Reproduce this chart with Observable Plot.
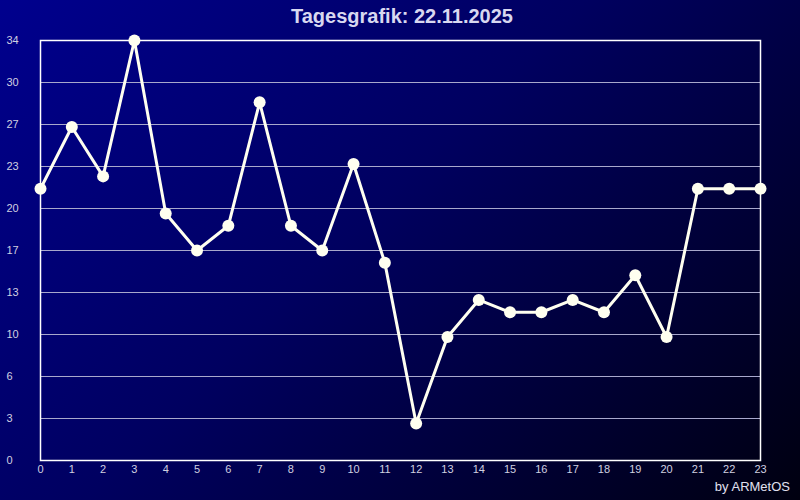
<!DOCTYPE html>
<html>
<head>
<meta charset="utf-8">
<script src="https://cdn.jsdelivr.net/npm/d3@7"></script>
<script src="https://cdn.jsdelivr.net/npm/@observablehq/plot@0.6"></script>
<style>
  html, body { margin: 0; padding: 0; background: #000; }
  #wrap {
    position: relative; width: 800px; height: 500px; overflow: hidden;
    background: linear-gradient(135deg, #00008e 0%, #000060 45%, #000010 100%);
    font-family: "Liberation Sans", Arial, sans-serif;
  }
  #title {
    position: absolute; left: 0; top: 5px; width: 804px; text-align: center;
    font-size: 20px; font-weight: bold; color: #d8d8f0;
  }
  #caption {
    position: absolute; right: 10px; top: 479px;
    font-size: 13px; color: #e0e0f0;
  }
  #chart { position: absolute; left: 0; top: 0; }
</style>
</head>
<body>
<div id="wrap">
  <div id="chart"></div>
  <div id="title">Tagesgrafik: 22.11.2025</div>
  <div id="caption">by ARMetOS</div>
</div>
<script>
const hours = d3.range(0, 24);
const values = [22, 27, 23, 34, 20, 17, 19, 29, 19, 17, 24, 16, 3, 10, 13, 12, 12, 13, 12, 15, 10, 22, 22, 22];
const yMax = 34;
const yTicks = d3.range(0, 11).map(i => yMax * i / 10);
const yTickLabels = yTicks.map(v => String(Math.floor(v + 1e-9)));

const data = hours.map((h, i) => ({hour: h, value: values[i]}));

const chart = Plot.plot({
  width: 800,
  height: 500,
  marginLeft: 40,
  marginRight: 40,
  marginTop: 40,
  marginBottom: 40,
  style: {background: "transparent", fontFamily: "Liberation Sans, Arial, sans-serif", fontSize: "11px", color: "#d0d0e0"},
  x: {domain: [0, 23], axis: null},
  y: {domain: [0, yMax], axis: null},
  marks: [
    Plot.gridY(yTicks, {stroke: "#a8a8cc", strokeOpacity: 1, strokeWidth: 1}),
    Plot.frame({stroke: "#ffffff", strokeWidth: 1.5}),
    Plot.text(yTicks, {y: d => d, text: (d, i) => yTickLabels[i], frameAnchor: "left", dx: -34, textAnchor: "start", fill: "#d0d0e0", fontSize: 11}),
    Plot.text(hours, {x: d => d, text: d => String(d), frameAnchor: "bottom", dy: 12, fill: "#d0d0e0", fontSize: 11}),
    Plot.line(data, {x: "hour", y: "value", stroke: "#fffff0", strokeWidth: 3}),
    Plot.dot(data, {x: "hour", y: "value", r: 6, fill: "#fffff0", stroke: "none"})
  ]
});
document.getElementById("chart").appendChild(chart);
</script>
</body>
</html>
